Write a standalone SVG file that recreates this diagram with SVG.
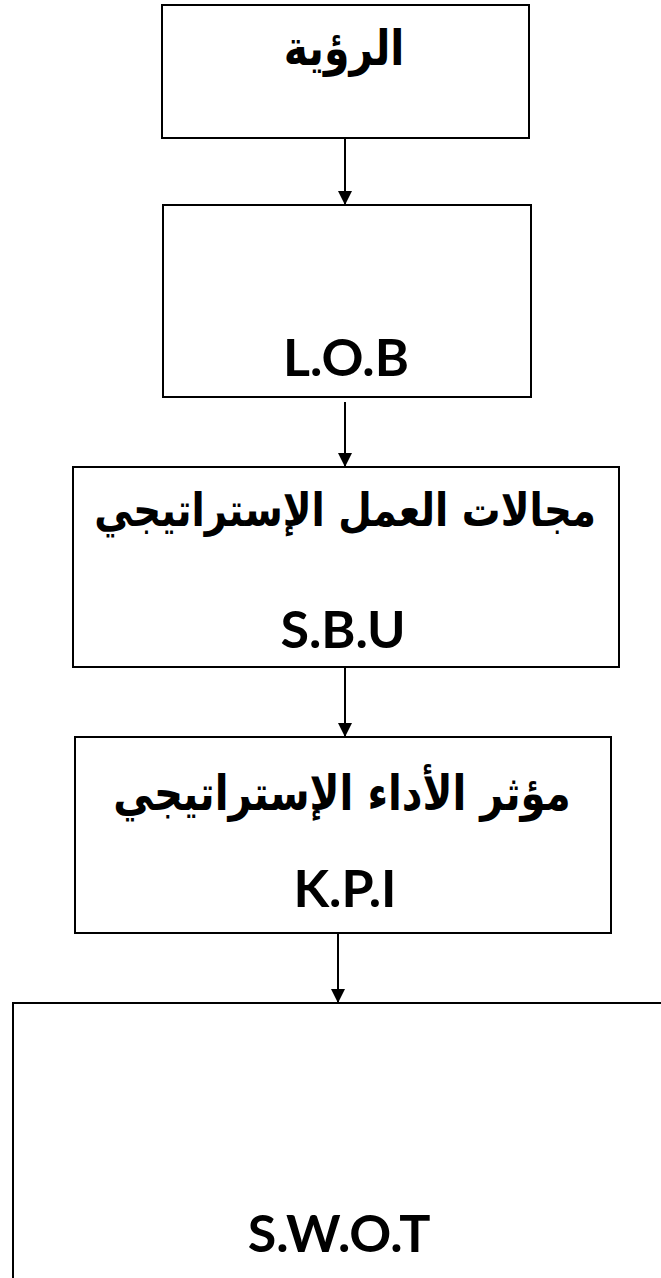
<svg xmlns="http://www.w3.org/2000/svg" width="661" height="1278" viewBox="0 0 661 1278">
  <style>
    .box { fill: #ffffff; stroke: #000000; stroke-width: 2; }
    .ar { font-family: "DejaVu Sans", sans-serif; font-weight: bold; fill: #000; text-anchor: middle; }
    .en { font-family: Lato, "Open Sans", sans-serif; font-weight: bold; font-size: 52px; fill: #000; text-anchor: middle; }
    .conn { stroke: #000; stroke-width: 2; fill: none; }
  </style>
  <defs>
    <marker id="arrow" viewBox="0 0 14 14" refX="14" refY="7" markerWidth="14" markerHeight="14" markerUnits="userSpaceOnUse" orient="auto">
      <path d="M0,0 L14,7 L0,14 Z" fill="#000"/>
    </marker>
  </defs>
  <rect x="0" y="0" width="661" height="1278" fill="#ffffff"/>
  <g id="node-vision">
    <rect class="box" x="162" y="5" width="367" height="133"/>
    <text class="ar" font-size="41" transform="translate(344,65) scale(1,1.2)" direction="rtl">الرؤية</text>
  </g>
  <g id="node-lob">
    <rect class="box" x="163" y="205" width="368" height="192"/>
    <text class="en" x="346" y="376">L.O.B</text>
  </g>
  <g id="node-sbu">
    <rect class="box" x="73" y="467" width="546" height="200"/>
    <text class="ar" font-size="38.7" transform="translate(345,526) scale(1,1.2)" direction="rtl">مجالات العمل الإستراتيجي</text>
    <text class="en" x="343" y="648">S.B.U</text>
  </g>
  <g id="node-kpi">
    <rect class="box" x="75" y="737" width="536" height="196"/>
    <text class="ar" font-size="40.3" transform="translate(342,810) scale(1,1.2)" direction="rtl">مؤثر الأداء الإستراتيجي</text>
    <text class="en" x="345" y="907">K.P.I</text>
  </g>
  <g id="node-swot">
    <rect class="box" x="13" y="1003" width="652" height="300"/>
    <text class="en" x="339" y="1252">S.W.O.T</text>
  </g>
  <g id="connectors">
    <line class="conn" x1="345" y1="138" x2="345" y2="205" marker-end="url(#arrow)"/>
    <line class="conn" x1="345" y1="402" x2="345" y2="467" marker-end="url(#arrow)"/>
    <line class="conn" x1="345" y1="667" x2="345" y2="737" marker-end="url(#arrow)"/>
    <line class="conn" x1="338" y1="933" x2="338" y2="1003" marker-end="url(#arrow)"/>
  </g>
</svg>
